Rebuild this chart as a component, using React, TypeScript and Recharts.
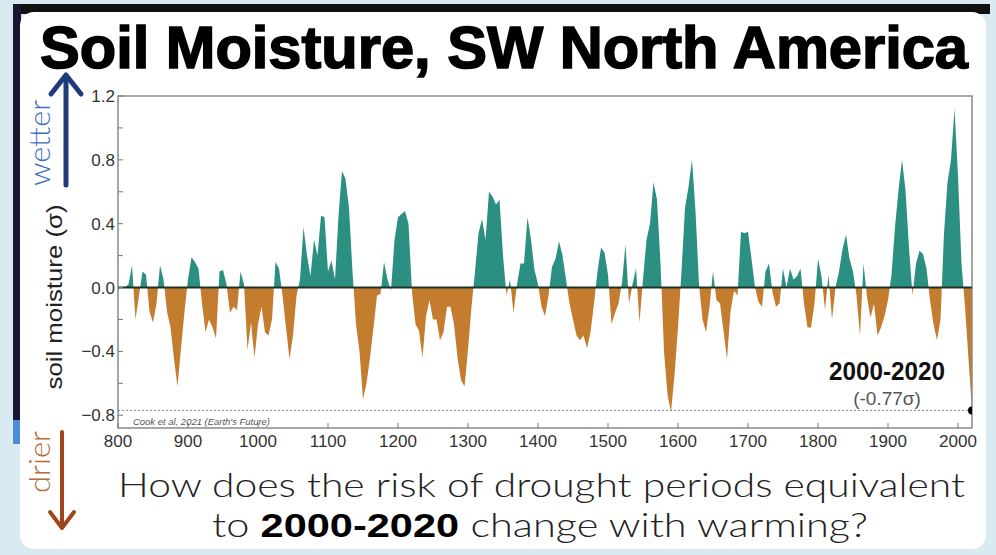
import { Area, AreaChart, ReferenceArea, ReferenceLine, XAxis, YAxis } from "recharts";

// soil moisture anomaly (sigma), 5-year steps from 800 to 2020
const START_YEAR = 800;
const STEP = 5;
const moisture = [
  // 800s
  0, 0, 0, 0.02, 0.14, -0.2, -0.05, 0.1, 0.08, -0.15, -0.22, -0.1, 0.14, 0.05, -0.15, -0.25, -0.45, -0.62, -0.38, -0.15,
  // 900s
  0.05, 0.19, 0.16, 0.12, -0.1, -0.28, -0.2, -0.25, -0.32, 0.1, 0.11, 0.02, -0.16, -0.12, -0.14, 0.1, 0.02, -0.39, -0.22, -0.44,
  // 1000s
  -0.23, -0.12, -0.28, -0.3, -0.2, 0.16, 0.12, -0.05, -0.25, -0.45, -0.3, -0.05, 0.05, 0.38, 0.2, 0.07, 0.3, 0.2, 0.45, 0.44,
  // 1100s
  0.1, 0.17, 0.05, 0.45, 0.73, 0.68, 0.5, 0.1, -0.23, -0.4, -0.7, -0.6, -0.44, -0.25, -0.05, -0.04, 0.16, 0.05, -0.02, 0.3,
  // 1200s
  0.44, 0.46, 0.48, 0.4, -0.03, -0.23, -0.27, -0.44, -0.18, -0.08, -0.2, -0.2, -0.33, -0.28, -0.12, -0.12, -0.23, -0.44, -0.58, -0.62,
  // 1300s
  -0.39, -0.12, 0.1, 0.34, 0.43, 0.3, 0.6, 0.57, 0.52, 0.55, 0.2, -0.05, 0.05, -0.16, 0.02, 0.15, 0.15, 0.44, 0.3, 0.11,
  // 1400s
  0.02, -0.12, -0.18, -0.05, 0.13, 0.18, 0.29, 0.2, 0.05, -0.1, -0.2, -0.3, -0.33, -0.3, -0.38, -0.28, -0.1, 0.1, 0.25, 0.22,
  // 1500s
  0.08, -0.23, -0.16, -0.1, 0.03, 0.27, -0.1, 0.02, 0.12, -0.22, 0.05, 0.3, 0.4, 0.66, 0.55, 0.15, -0.4, -0.67, -0.78, -0.55,
  // 1600s
  -0.25, 0.1, 0.5, 0.63, 0.8, 0.48, 0.02, -0.2, -0.28, -0.12, 0.1, -0.08, -0.1, -0.27, -0.45, -0.15, -0.02, -0.05, 0.35, 0.34,
  // 1700s
  0.35, 0.18, 0, -0.09, -0.12, 0.1, 0.15, -0.03, -0.12, -0.1, 0.12, 0, 0.12, 0.05, 0.07, 0.12, -0.1, -0.25, -0.25, -0.1,
  // 1800s
  0.18, 0.07, -0.14, 0.08, -0.2, 0, 0.1, 0.24, 0.33, 0.18, 0.1, -0.05, -0.3, 0.15, -0.06, -0.19, -0.1, -0.3, -0.25, -0.18,
  // 1900s
  -0.08, 0.08, 0.38, 0.61, 0.8, 0.61, 0.25, -0.05, 0.15, 0.23, 0.21, 0.12, -0.08, -0.23, -0.33, -0.2, 0.34, 0.66, 0.8, 1.12,
  // 2000s
  0.7, 0.15, -0.12, -0.45, -0.77,
];

const xTicks = [800, 900, 1000, 1100, 1200, 1300, 1400, 1500, 1600, 1700, 1800, 1900, 2000];
const yTicks = [-0.8, -0.6, -0.4, -0.2, 0, 0.2, 0.4, 0.6, 0.8, 1.0, 1.2];
const yLabelled = [-0.8, -0.4, 0, 0.4, 0.8, 1.2];
const recentDrought = -0.77;

const WET = "#2b9081";
const DRY = "#c47c2e";
const FONT = "'Liberation Sans', Arial, Helvetica, sans-serif";
const LIGHT = "Lato, 'Open Sans', sans-serif";

const data = moisture.map((v, i) => ({ year: START_YEAR + i * STEP, v }));
const maxV = Math.max(...moisture);
const minV = Math.min(...moisture);
const splitAt = maxV / (maxV - minV);

const YTick = ({ x, y, payload }: any) => {
  const v = payload.value;
  const show = yLabelled.some((l) => Math.abs(l - v) < 1e-6);
  return (
    <g>
      <line x1={x} x2={x + 5} y1={y} y2={y} stroke="#777" strokeWidth={1} />
      {show && (
        <text x={x - 3} y={y + 6} textAnchor="end" fontSize={17} fill="#333" fontFamily={FONT}>
          {v.toFixed(1).replace("-", "\u2212")}
        </text>
      )}
    </g>
  );
};

const XTick = ({ x, y, payload }: any) => (
  <g>
    <line x1={x} x2={x} y1={y} y2={y - 5} stroke="#777" strokeWidth={1} />
    <text x={x} y={y + 19} textAnchor="middle" fontSize={17} fill="#333" fontFamily={FONT}>
      {payload.value}
    </text>
  </g>
);

const LastDot = (props: any) => {
  if (props.index !== data.length - 1) return <g key={props.index} />;
  return <circle key={props.index} cx={props.cx} cy={props.cy} r={4} fill="#000" />;
};

export default function App() {
  return (
    <div
      style={{
        position: "fixed",
        left: 0,
        top: 0,
        width: 996,
        height: 555,
        background: "#d9eaf2",
        overflow: "hidden",
      }}
    >
      {/* slide frame */}
      <div style={{ position: "absolute", left: 13, top: 4, width: 977, height: 10, background: "#111" }} />
      <div style={{ position: "absolute", left: 13, top: 4, width: 8, height: 416, background: "#1b1630" }} />
      <div style={{ position: "absolute", left: 13, top: 420, width: 8, height: 24, background: "#4a8fd6" }} />
      <div
        style={{
          position: "absolute",
          left: 20,
          top: 12,
          width: 966,
          height: 537,
          background: "#fff",
          borderRadius: 14,
        }}
      />

      <div style={{ position: "absolute", left: 0, top: 0 }}>
        <AreaChart width={996} height={555} data={data} margin={{ top: 96, right: 24, bottom: 97, left: 0 }}>
          <defs>
            <linearGradient id="smSplit" x1="0" y1="0" x2="0" y2="1">
              <stop offset={splitAt} stopColor={WET} />
              <stop offset={splitAt} stopColor={DRY} />
            </linearGradient>
          </defs>
          <XAxis
            dataKey="year"
            type="number"
            domain={[800, 2020]}
            ticks={xTicks}
            interval={0}
            allowDataOverflow
            axisLine={false}
            tickLine={false}
            tickSize={0}
            tickMargin={0}
            height={30}
            tick={<XTick />}
          />
          <YAxis
            type="number"
            domain={[-0.88, 1.2]}
            ticks={yTicks}
            interval={0}
            allowDataOverflow
            axisLine={false}
            tickLine={false}
            tickSize={0}
            tickMargin={0}
            width={118}
            tick={<YTick />}
          />
          <Area
            dataKey="v"
            type="linear"
            baseValue={0}
            stroke="none"
            fill="url(#smSplit)"
            fillOpacity={1}
            dot={<LastDot />}
            activeDot={false}
            isAnimationActive={false}
          />
          <ReferenceLine y={0} stroke="#1c3328" strokeWidth={2} />
          <ReferenceLine y={recentDrought} stroke="#888" strokeWidth={1} strokeDasharray="2 2" />
          <ReferenceArea x1={800} x2={2020} y1={-0.88} y2={1.2} fill="none" stroke="#8a8a8a" strokeWidth={1.5} />
        </AreaChart>
      </div>

      <svg width={996} height={555} style={{ position: "absolute", left: 0, top: 0, pointerEvents: "none" }}>
        <text
          x={40}
          y={68}
          fontFamily={FONT}
          fontWeight={700}
          fontSize={60}
          fill="#000"
          stroke="#000"
          strokeWidth={1.6}
          textLength={928}
          lengthAdjust="spacingAndGlyphs"
        >
          Soil Moisture, SW North America
        </text>

        {/* wetter arrow */}
        <line x1={66} y1={185} x2={66} y2={78} stroke="#1f3c7a" strokeWidth={5} strokeLinecap="round" />
        <polyline points="51,94 66,75 81,94" fill="none" stroke="#1f3c7a" strokeWidth={5} strokeLinecap="round" strokeLinejoin="round" />
        <text
          x={0}
          y={0}
          transform="translate(50 143) rotate(-90)"
          textAnchor="middle"
          fontFamily={LIGHT}
          fontWeight={300}
          fontSize={29}
          fill="#3f6fc0"
          textLength={86}
          lengthAdjust="spacingAndGlyphs"
        >
          wetter
        </text>

        {/* drier arrow */}
        <line x1={62} y1={432} x2={62} y2={526} stroke="#a0461e" strokeWidth={4} strokeLinecap="round" />
        <polyline points="50,512 62,528 74,512" fill="none" stroke="#a0461e" strokeWidth={4} strokeLinecap="round" strokeLinejoin="round" />
        <text
          x={0}
          y={0}
          transform="translate(50 462) rotate(-90)"
          textAnchor="middle"
          fontFamily={LIGHT}
          fontWeight={300}
          fontSize={29}
          fill="#b86a38"
          textLength={62}
          lengthAdjust="spacingAndGlyphs"
        >
          drier
        </text>

        <text
          x={0}
          y={0}
          transform="translate(62 297) rotate(-90)"
          textAnchor="middle"
          fontFamily={FONT}
          fontSize={22}
          fill="#222"
          textLength={185}
          lengthAdjust="spacingAndGlyphs"
        >
          soil moisture (σ)
        </text>

        <text x={133} y={425} fontFamily={FONT} fontStyle="italic" fontSize={9} fill="#555" textLength={137} lengthAdjust="spacingAndGlyphs">
          Cook et al, 2021 (Earth's Future)
        </text>

        <text x={945} y={380} textAnchor="end" fontFamily={FONT} fontWeight={700} fontSize={25} fill="#111" textLength={116} lengthAdjust="spacingAndGlyphs">
          2000-2020
        </text>
        <text x={887} y={405} textAnchor="middle" fontFamily={FONT} fontSize={19} fill="#555">
          (-0.77σ)
        </text>

        <text
          x={118}
          y={497}
          fontFamily={LIGHT}
          fontWeight={300}
          fontSize={34}
          fill="#222"
          textLength={847}
          lengthAdjust="spacingAndGlyphs"
        >
          How does the risk of drought periods equivalent
        </text>
        <text
          x={212}
          y={537}
          fontFamily={LIGHT}
          fontWeight={300}
          fontSize={34}
          fill="#222"
          textLength={656}
          lengthAdjust="spacingAndGlyphs"
        >
          to <tspan fontFamily={FONT} fontWeight={700} fill="#000">2000-2020</tspan> change with warming?
        </text>
      </svg>
    </div>
  );
}
